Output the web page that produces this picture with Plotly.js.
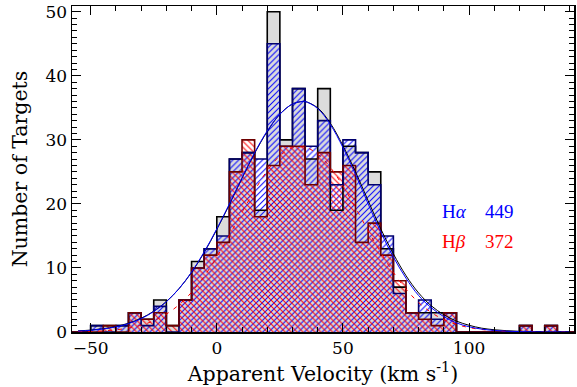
<!DOCTYPE html>
<html><head><meta charset="utf-8">
<script src="https://cdn.plot.ly/plotly-3.0.1.min.js"></script>
<style>html,body{margin:0;padding:0;background:#fff}#chart{width:577px;height:387px}</style>
</head><body><div id="chart"></div>
<script>
// bin left edges (km/s), 5 km/s bins
const binLeft = [-60,-55,-50,-45,-40,-35,-30,-25,-20,-15,-10,-5,0,5,10,15,20,25,30,35,40,45,50,55,60,65,70,75,80,85,90,95,100,105,110,115,120,125,130,135,140];
// all targets (grey)
const allTargets = [0,0,1,1,1,3,2,5,1,5,11,13,18,27,28,19,50,30,38,27,38,19,29,28,25,13,7,3,3,3,3,0,0,0,0,0,1,0,1,0,0];
// H-alpha (blue)
const halpha = [0,0,1,0,1,3,1,4,0,5,10,13,15,27,28,27,45,29,38,29,33,23,30,28,23,15,6,3,5,2,3,0,0,0,0,0,1,0,1,0,0];
// H-beta (red)
const hbeta = [0,0,0,1,0,3,2,3,1,5,10,12,14,25,30,18,26,29,29,23,28,25,26,14,17,12,8,3,2,1,3,0,0,0,0,0,1,0,1,0,0];

// fitted curves
const fitX = [-55,-50,-45,-40,-35,-30,-25,-20,-15,-10,-5,0,5,10,15,20,25,30,34,35,40,45,50,55,60,65,70,75,80,85,90,95,100,105,110,115,120,125,130,135,140];
const fitHalpha = [0.14,0.26,0.47,0.8,1.31,2.08,3.19,4.72,6.76,9.35,12.5,16.1,20.0,24.1,28.0,31.4,34.0,35.6,36.0,36.0,34.9,32.4,28.8,24.6,20.0,15.6,11.7,8.4,5.7,3.8,2.4,1.42,0.82,0.45,0.24,0.12,0.06,0.03,0.01,0.01,0];
const fitAll = [0.18,0.3,0.52,0.85,1.38,2.15,3.25,4.75,6.75,9.3,12.4,16.0,19.9,24.0,27.9,31.3,34.0,35.6,36.0,36.0,35.0,32.6,29.1,25.0,20.5,16.1,12.2,8.8,6.1,4.1,2.7,1.7,1.05,0.6,0.35,0.2,0.11,0.06,0.03,0.02,0.01];
const fitHbeta = [0.05,0.09,0.18,0.34,0.62,1.06,1.76,2.79,4.25,6.2,8.7,11.7,15.1,18.7,22.1,25.2,27.5,28.8,28.9,28.9,27.8,25.7,22.8,19.4,15.8,12.4,9.3,6.7,4.6,3.05,1.93,1.18,0.69,0.39,0.21,0.11,0.05,0.03,0.01,0,0];

const labels = [
  {name: 'H<i>α</i>', count: '449', color: '#0000ff'},
  {name: 'H<i>β</i>', count: '372', color: '#ff0000'}
];

const binWidth = 5;

function stepTrace(vals, color) {
  const x = [binLeft[0]], y = [0];
  for (let i = 0; i < binLeft.length; i++) { x.push(binLeft[i]); y.push(vals[i]); }
  const last = binLeft.length - 1;
  x.push(binLeft[last] + binWidth); y.push(vals[last]);
  x.push(binLeft[last] + binWidth); y.push(0);
  return {type: 'scatter', mode: 'lines', x: x, y: y, line: {shape: 'hv', color: color, width: 1.6},
          hoverinfo: 'skip', showlegend: false};
}

function barTrace(vals, color, pattern) {
  const t = {type: 'bar', x: binLeft, y: vals, width: binWidth, offset: 0,
             marker: {color: color, line: {width: 0}}, showlegend: false, hoverinfo: 'skip'};
  if (pattern) t.marker.pattern = pattern;
  return t;
}

const data = [
  barTrace(allTargets, '#dcdcdc', null),
  barTrace(halpha, '#0000ff', {shape: '/', size: 4.2, solidity: 0.24, fillmode: 'replace'}),
  barTrace(hbeta, '#ff0000', {shape: '\\', size: 4.2, solidity: 0.24, fillmode: 'replace'}),
  stepTrace(allTargets, '#000000'),
  stepTrace(halpha, '#00006e'),
  stepTrace(hbeta, '#6e0000'),
  {type: 'scatter', mode: 'lines', x: fitX, y: fitAll, line: {color: '#000000', width: 1, shape: 'spline'}, showlegend: false, hoverinfo: 'skip'},
  {type: 'scatter', mode: 'lines', x: fitX, y: fitHbeta, line: {color: '#ff0000', width: 1, shape: 'spline', dash: '4px,6px'}, showlegend: false, hoverinfo: 'skip'},
  {type: 'scatter', mode: 'lines', x: fitX, y: fitHalpha, line: {color: '#0000ff', width: 1, shape: 'spline'}, showlegend: false, hoverinfo: 'skip'}
];

const tickFont = {family: 'DejaVu Serif', size: 17, color: '#000'};
const titleFont = {family: 'DejaVu Serif', size: 20.5, color: '#000'};
const annotations = [];
labels.forEach(function (l, i) {
  const yp = i === 0 ? 0.37 : 0.278;
  annotations.push({xref: 'paper', yref: 'paper', x: 0.733, y: yp, xanchor: 'left', yanchor: 'middle', showarrow: false,
    text: l.name, font: {family: 'Liberation Serif', size: 19, color: l.color}});
  annotations.push({xref: 'paper', yref: 'paper', x: 0.819, y: yp, xanchor: 'left', yanchor: 'middle', showarrow: false,
    text: l.count, font: {family: 'Liberation Serif', size: 19, color: l.color}});
});

const layout = {
  width: 577, height: 387,
  margin: {l: 72, r: 3, t: 6, b: 55},
  paper_bgcolor: '#fff', plot_bgcolor: '#fff',
  barmode: 'overlay', bargap: 0,
  showlegend: false,
  font: tickFont,
  xaxis: {
    range: [-57.4, 141.6], tick0: 0, dtick: 50, ticks: 'inside', ticklen: 9, tickwidth: 1, tickcolor: '#000',
    minor: {dtick: 10, ticklen: 5, ticks: 'inside', tickcolor: '#000', tickwidth: 1},
    mirror: 'ticks', showline: true, linecolor: '#000', linewidth: 1.5,
    showgrid: false, zeroline: false, tickfont: tickFont,
    title: {text: 'Apparent Velocity (km s<sup>-1</sup>)', font: titleFont, standoff: 9}
  },
  yaxis: {
    range: [0, 50.9], tick0: 0, dtick: 10, ticks: 'inside', ticklen: 9, tickwidth: 1, tickcolor: '#000',
    minor: {dtick: 1, ticklen: 5, ticks: 'inside', tickcolor: '#000', tickwidth: 1},
    mirror: 'ticks', showline: true, linecolor: '#000', linewidth: 1.5,
    showgrid: false, zeroline: false, tickfont: tickFont,
    title: {text: 'Number of Targets', font: titleFont, standoff: 12}
  },
  annotations: annotations
};

Plotly.newPlot('chart', data, layout, {staticPlot: true, displayModeBar: false});
</script>
</body></html>
